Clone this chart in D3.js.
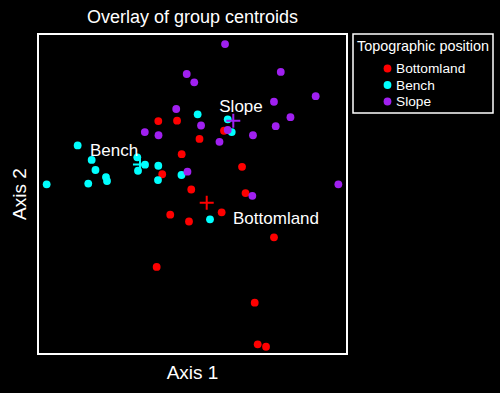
<!DOCTYPE html>
<html>
<head>
<meta charset="utf-8">
<script src="https://cdn.jsdelivr.net/npm/d3@7"></script>
<style>
  body { margin: 0; background: #000; }
  text { font-family: "Liberation Sans", Arial, sans-serif; fill: #fff; }
</style>
</head>
<body>
<div id="chart"></div>
<script>
// groups and colours
let groups = ['Bottomland', 'Bench', 'Slope'];
let colors = ['#ff0000', '#00ffff', '#a020f0'];

// site scores, axis 1 / axis 2
let bottomland_x = [-0.332, -0.150, 0.068, -0.105, 0.306, 0.481, -0.294, -0.012, 0.515, -0.216, -0.034, 0.283, 0.791, -0.348, 0.604, 0.633, 0.714];
let bottomland_y = [0.684, 0.687, 0.516, 0.373, 0.593, 0.255, 0.185, 0.042, 0.009, -0.194, -0.258, -0.172, -0.406, -0.684, -1.019, -1.409, -1.432];

let bench_x = [-1.115, -0.979, -0.942, -0.840, -0.830, -1.012, -1.416, -0.536, -0.461, -0.529, -0.332, -0.335, -0.107, 0.170, 0.050, 0.342, 0.381];
let bench_y = [0.455, 0.319, 0.225, 0.159, 0.122, 0.098, 0.091, 0.344, 0.275, 0.218, 0.265, 0.131, 0.178, -0.237, 0.747, 0.700, 0.581];

let slope_x = [0.316, -0.056, 0.017, 0.857, 1.196, 0.791, -0.158, 0.951, 0.083, 0.808, 0.342, 0.587, -0.463, -0.330, 0.262, 1.416, 0.581, -0.049];
let slope_y = [1.406, 1.125, 1.047, 1.144, 0.917, 0.865, 0.797, 0.720, 0.642, 0.636, 0.600, 0.551, 0.581, 0.551, 0.489, 0.091, -0.017, 0.209];

// group centroids and where their labels sit
let centroid_x = [0.138, -0.510, 0.396];
let centroid_y = [-0.082, 0.277, 0.687];
let label_x = [0.811, -0.762, 0.471];
let label_y = [-0.225, 0.412, 0.825];

let xs = [bottomland_x, bench_x, slope_x];
let ys = [bottomland_y, bench_y, slope_y];

let chart_width  = 500;
let chart_height = 393;
let plot = {left: 38, top: 34, right: 347, bottom: 354};

let svg = d3.select('#chart')
            .append('svg')
            .attr('width', chart_width)
            .attr('height', chart_height)
            .style('background', '#000');

let x_scale = d3.scaleLinear()
            .domain([-1.5, 1.5])
            .range([plot.left, plot.right]);

let y_scale = d3.scaleLinear()
            .domain([-1.5, 1.5])
            .range([plot.bottom, plot.top]);

//points
groups.forEach((g, i) => {
  let data = xs[i].map((x, j) => [x, ys[i][j]]);
  svg.selectAll('circle.g' + i)
    .data(data)
    .enter()
    .append('circle')
    .attr('class', 'g' + i)
    .attr('cx', d => x_scale(d[0]))
    .attr('cy', d => y_scale(d[1]))
    .attr('r', 3.9)
    .attr('fill', colors[i]);
});

//centroids
groups.forEach((g, i) => {
  let cx = x_scale(centroid_x[i]);
  let cy = y_scale(centroid_y[i]);
  svg.append('path')
    .attr('d', 'M' + (cx - 7) + ',' + cy + 'H' + (cx + 7) + 'M' + cx + ',' + (cy - 7) + 'V' + (cy + 7))
    .attr('stroke', colors[i])
    .attr('stroke-width', 2)
    .attr('fill', 'none');

  svg.append('text')
    .attr('x', x_scale(label_x[i]))
    .attr('y', y_scale(label_y[i]))
    .attr('text-anchor', 'middle')
    .attr('dominant-baseline', 'central')
    .style('font-size', '17px')
    .text(g);
});

//frame
svg.append('rect')
  .attr('x', plot.left)
  .attr('y', plot.top)
  .attr('width', plot.right - plot.left)
  .attr('height', plot.bottom - plot.top)
  .attr('fill', 'none')
  .attr('stroke', '#fff')
  .attr('stroke-width', 2);

//titles
svg.append('text')
  .attr('x', (plot.left + plot.right) / 2)
  .attr('y', 23)
  .attr('text-anchor', 'middle')
  .style('font-size', '18px')
  .text('Overlay of group centroids');

svg.append('text')
  .attr('x', (plot.left + plot.right) / 2)
  .attr('y', 379)
  .attr('text-anchor', 'middle')
  .style('font-size', '19px')
  .text('Axis 1');

svg.append('text')
  .attr('transform', 'translate(26,' + (plot.top + plot.bottom) / 2 + ') rotate(-90)')
  .attr('text-anchor', 'middle')
  .style('font-size', '19px')
  .text('Axis 2');

//legend
let legend = svg.append('g')
                .attr('transform', 'translate(353,34)');

legend.append('rect')
  .attr('width', 140)
  .attr('height', 79)
  .attr('fill', 'none')
  .attr('stroke', '#fff')
  .attr('stroke-width', 1.5);

legend.append('text')
  .attr('x', 70)
  .attr('y', 17)
  .attr('text-anchor', 'middle')
  .style('font-size', '14.4px')
  .text('Topographic position');

let items = legend.selectAll('g.item')
                  .data(groups)
                  .enter()
                  .append('g')
                  .attr('class', 'item')
                  .attr('transform', (d, i) => 'translate(0,' + (34.5 + i * 16.5) + ')');

items.append('circle')
  .attr('cx', 34.5)
  .attr('r', 3.9)
  .attr('fill', (d, i) => colors[i]);

items.append('text')
  .attr('x', 43)
  .attr('dominant-baseline', 'central')
  .style('font-size', '13.7px')
  .text(d => d);
</script>
</body>
</html>
